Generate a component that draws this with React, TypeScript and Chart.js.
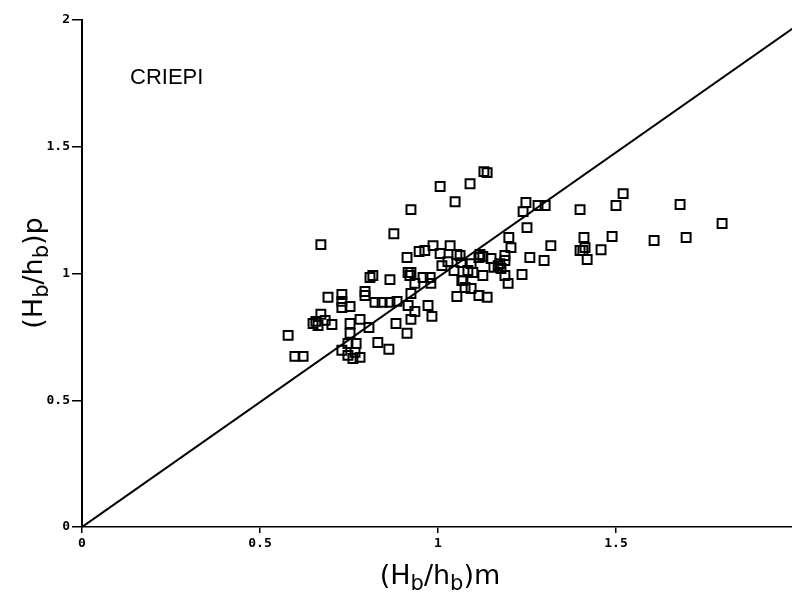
import React, { useEffect, useRef } from "react";
import { Chart, registerables } from "chart.js";

Chart.register(...registerables);

const measuredX = [
  0.579, 0.598, 0.621, 0.649, 0.657, 0.663, 0.671, 0.683, 0.671, 0.691,
  0.702, 0.73, 0.73, 0.73, 0.753, 0.795, 0.795, 0.753, 0.781, 0.806,
  0.753, 0.747, 0.77, 0.73, 0.767, 0.747, 0.761, 0.781, 0.831, 0.862,
  0.809, 0.817, 0.823, 0.843, 0.865, 0.885, 0.865, 0.876, 0.913, 0.947,
  0.963, 0.986, 1.006, 1.034, 1.053, 1.011, 1.028, 1.045, 1.065, 0.916,
  0.924, 0.921, 0.935, 0.958, 0.978, 0.98, 1.067, 1.053, 0.924, 0.916,
  0.935, 0.972, 0.983, 0.924, 0.882, 0.913, 0.924, 1.006, 1.048, 1.09,
  1.129, 1.138, 1.062, 1.084, 1.093, 1.098, 1.07, 1.076, 1.093, 1.115,
  1.138, 1.118, 1.126, 1.115, 1.149, 1.157, 1.169, 1.177, 1.174, 1.188,
  1.188, 1.188, 1.197, 1.126, 1.199, 1.205, 1.236, 1.258, 1.298, 1.317,
  1.247, 1.239, 1.281, 1.301, 1.25, 1.399, 1.41, 1.413, 1.399, 1.407,
  1.419, 1.458, 1.489, 1.5, 1.52, 1.607, 1.68, 1.697, 1.798,
];
const predictedY = [
  0.756, 0.673, 0.673, 0.803, 0.811, 0.795, 0.839, 0.815, 1.114, 0.906,
  0.799, 0.917, 0.89, 0.866, 0.87, 0.929, 0.913, 0.803, 0.819, 0.787,
  0.764, 0.724, 0.724, 0.697, 0.689, 0.677, 0.665, 0.669, 0.728, 0.701,
  0.984, 0.992, 0.886, 0.886, 0.886, 0.89, 0.976, 1.157, 1.063, 1.087,
  1.091, 1.11, 1.079, 1.11, 1.075, 1.031, 1.047, 1.012, 1.043, 1.004,
  1.004, 0.992, 0.961, 0.984, 0.984, 0.961, 0.972, 0.909, 0.921, 0.874,
  0.85, 0.874, 0.831, 0.819, 0.803, 0.764, 1.252, 1.343, 1.283, 1.354,
  1.402, 1.398, 1.071, 1.012, 1.039, 1.004, 0.972, 0.945, 0.941, 0.913,
  0.906, 1.075, 1.067, 1.063, 1.059, 1.024, 1.031, 1.02, 1.039, 1.071,
  1.051, 0.992, 0.961, 0.992, 1.142, 1.102, 0.996, 1.063, 1.051, 1.11,
  1.28, 1.244, 1.268, 1.268, 1.181, 1.252, 1.142, 1.102, 1.091, 1.091,
  1.055, 1.094, 1.146, 1.268, 1.315, 1.13, 1.272, 1.142, 1.197,
];
// Agreement line as drawn in the reference (ends slightly below 2 at the right edge)
const agreementLineX = [0, 2];
const agreementLineY = [0, 1.97];
const axisMin = 0;
const axisMax = 2;
const tickStep = 0.5;
const hiddenXTickLabels = [2];
const annotationLabel = "CRIEPI";
const xTitleParts = [
  { t: "(H", sub: false },
  { t: "b", sub: true },
  { t: "/h", sub: false },
  { t: "b", sub: true },
  { t: ")m", sub: false },
];
const yTitleParts = [
  { t: "(H", sub: false },
  { t: "b", sub: true },
  { t: "/h", sub: false },
  { t: "b", sub: true },
  { t: ")p", sub: false },
];

const TITLE_FONT = '"DejaVu Sans", "Liberation Sans", sans-serif';
const TITLE_SIZE = 27;
const SUB_SIZE = 21;

function drawParts(ctx: CanvasRenderingContext2D, parts: { t: string; sub: boolean }[], cx: number, baseline: number) {
  const widths = parts.map((p) => {
    ctx.font = `${p.sub ? SUB_SIZE : TITLE_SIZE}px ${TITLE_FONT}`;
    return ctx.measureText(p.t).width;
  });
  const total = widths.reduce((a, b) => a + b, 0);
  let x = cx - total / 2;
  ctx.textAlign = "left";
  ctx.textBaseline = "alphabetic";
  parts.forEach((p, i) => {
    ctx.font = `${p.sub ? SUB_SIZE : TITLE_SIZE}px ${TITLE_FONT}`;
    ctx.fillText(p.t, x, baseline + (p.sub ? 6 : 0));
    x += widths[i];
  });
}

const titlesPlugin = {
  id: "customTitles",
  afterDraw(chart: any) {
    const ctx: CanvasRenderingContext2D = chart.ctx;
    ctx.save();
    ctx.fillStyle = "#000";
    drawParts(ctx, xTitleParts, 440, 584);
    ctx.translate(42, 273);
    ctx.rotate(-Math.PI / 2);
    drawParts(ctx, yTitleParts, 0, 0);
    ctx.restore();
    ctx.save();
    ctx.fillStyle = "#000";
    ctx.font = `22px "Liberation Sans", Arial, sans-serif`;
    ctx.textAlign = "left";
    ctx.textBaseline = "alphabetic";
    ctx.fillText(annotationLabel, 130, 84);
    ctx.restore();
  },
};

const fmt = (v: number | string) => String(Number(v));

export default function App() {
  const canvasRef = useRef<HTMLCanvasElement | null>(null);

  useEffect(() => {
    if (!canvasRef.current) return;
    const points = measuredX.map((x, i) => ({ x, y: predictedY[i] }));
    const line = agreementLineX.map((x, i) => ({ x, y: agreementLineY[i] }));
    const tickFont = { family: '"DejaVu Sans Mono", monospace', size: 13, weight: "bold" as const };
    const chart = new Chart(canvasRef.current, {
      type: "scatter",
      data: {
        datasets: [
          {
            label: "1:1",
            data: line,
            showLine: true,
            borderColor: "#000",
            borderWidth: 2,
            pointRadius: 0,
            fill: false,
          },
          {
            label: "CRIEPI",
            data: points,
            pointStyle: "rect",
            pointRadius: 6.3,
            borderColor: "#000",
            backgroundColor: "rgba(255,255,255,0)",
            borderWidth: 2,
          },
        ],
      },
      options: {
        animation: false,
        responsive: false,
        devicePixelRatio: 1,
        layout: { padding: { left: 0, top: 20, right: 36, bottom: 0 } },
        plugins: {
          legend: { display: false },
          tooltip: { enabled: false },
          title: { display: false },
        },
        scales: {
          x: {
            type: "linear",
            min: axisMin,
            max: axisMax,
            ticks: {
              stepSize: tickStep,
              color: "#000",
              font: tickFont,
              padding: 3,
              maxRotation: 0,
              callback: (v: any) => (hiddenXTickLabels.includes(Number(v)) ? "" : fmt(v)),
            },
            grid: { drawOnChartArea: false, drawTicks: true, tickLength: 6, color: "#000", lineWidth: 1.5 },
            border: { display: true, color: "#000", width: 1.5 },
            afterFit: (scale: any) => {
              scale.height = 68;
            },
          },
          y: {
            type: "linear",
            min: axisMin,
            max: axisMax,
            ticks: { stepSize: tickStep, color: "#000", font: tickFont, padding: 2, callback: (v: any) => fmt(v) },
            grid: { drawOnChartArea: false, drawTicks: true, tickLength: 10, color: "#000", lineWidth: 1.5 },
            border: { display: true, color: "#000", width: 2 },
            afterFit: (scale: any) => {
              scale.width = 82;
            },
          },
        },
      },
      plugins: [titlesPlugin],
    });
    return () => chart.destroy();
  }, []);

  return (
    <div
      style={{
        position: "absolute",
        left: 0,
        top: 0,
        width: 792,
        height: 595,
        overflow: "hidden",
        background: "#fff",
      }}
    >
      <canvas ref={canvasRef} width={830} height={595} style={{ width: 830, height: 595, display: "block" }} />
    </div>
  );
}
